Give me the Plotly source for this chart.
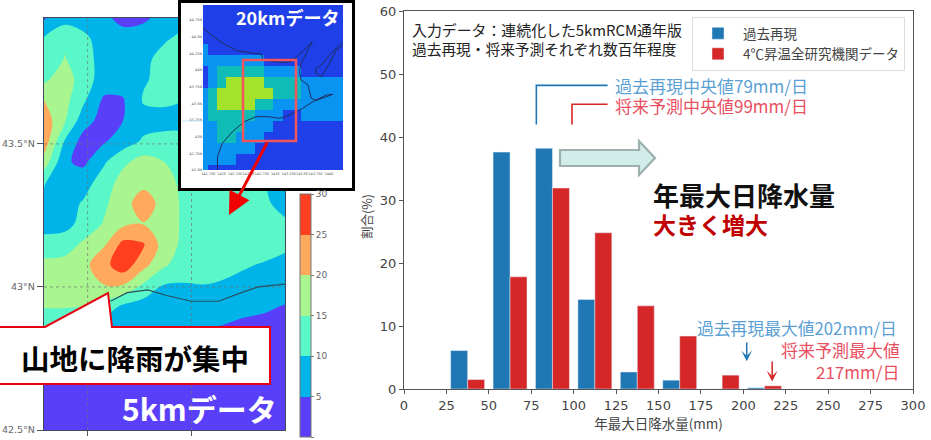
import plotly.graph_objects as go

W, H = 931, 440
JP = "Noto Sans CJK JP"
LAT = "DejaVu Sans"


def px(x):
    return x / W


def py(y):
    return (H - y) / H


def xdom(a, b):
    return [px(a), px(b)]


def ydom(top, bottom):
    return [py(bottom), py(top)]


# ---------- histogram ----------
bin_centres = [37.5, 62.5, 87.5, 112.5, 137.5, 162.5, 187.5, 212.5]
past_pct = [6.1, 37.6, 38.2, 14.2, 2.7, 1.4, 0.0, 0.2]
future_pct = [1.5, 17.8, 31.9, 24.8, 13.2, 8.4, 2.2, 0.5]
past_name = "過去再現"
future_name = "4℃昇温全研究機関データ"
past_median, future_median = 79, 99
past_max, future_max = 202, 217

# ---------- 5 km map ----------
map_lon = [141.79, 141.89, 141.98, 142.08, 142.17, 142.27, 142.37, 142.46, 142.56, 142.65, 142.75, 142.85, 142.95]
map_lat = [43.94, 43.868, 43.796, 43.724, 43.652, 43.58, 43.508, 43.436, 43.364, 43.292, 43.22,
           43.148, 43.076, 43.004, 42.932, 42.86, 42.788, 42.716, 42.644, 42.572, 42.5]
map_rain = [
    [4.5, 8, 8, 6, 3.5, 4, 7, 8, 8, 8, 8, 8, 8],
    [10.5, 14, 11, 8, 7, 8, 9.5, 11, 8, 8, 8, 8, 8],
    [10.3, 15.3, 12, 8, 7, 9, 11.5, 12, 10, 8, 8, 8, 8],
    [14, 18, 12, 8, 7, 9.5, 11.5, 12, 10, 8, 8, 8, 8],
    [20, 16.5, 10.8, 4, 4.6, 10.5, 10.7, 10, 9, 8, 8, 8, 8],
    [23, 15.5, 7, 3, 5, 8, 8.5, 9, 9, 8, 8, 8, 8],
    [23, 9.5, 3, 4.6, 7.5, 10.8, 11.5, 11, 10, 9, 8, 8, 8],
    [18, 5.6, 4, 9.5, 14, 17, 15, 12.5, 12, 11, 10, 9, 8],
    [10.5, 5.1, 8, 12.5, 17, 19, 17.5, 13.5, 13, 13, 12, 10, 8],
    [8.5, 8, 10.5, 14, 18.5, 22, 18.5, 14, 13.5, 13.5, 13, 11, 8],
    [8, 8.5, 11.5, 15.5, 19, 19.8, 18.5, 14, 13, 13, 13, 12.5, 11],
    [12, 12.5, 16, 19.5, 26.5, 25.5, 17.5, 14, 13, 13, 12.8, 12.5, 10.7],
    [16.5, 17, 18.5, 23.5, 28, 21.5, 15.5, 13, 13, 12.5, 10.5, 9.5, 9],
    [16, 16.5, 18, 19.8, 19.6, 14, 9.5, 9.5, 9.8, 9, 8.5, 7.5, 7],
    [15.5, 15.5, 15, 13, 9, 7.5, 7, 6.5, 7, 7, 6, 5.5, 4.8],
    [10, 9, 8, 7, 6.5, 6, 6, 5.5, 5.2, 4.8, 4.2, 4, 3.5],
    [6, 6, 5.5, 5.5, 5.5, 5, 5, 5, 4.5, 4, 3.5, 3.5, 3],
    [5.2, 5.2, 5, 5, 4.8, 4.5, 4, 4, 4, 3.5, 3, 3, 3],
    [4, 4, 4, 4, 4, 3.5, 3.5, 3.5, 3, 3, 3, 2.5, 2.5],
    [3, 3, 3, 3, 3, 3, 3, 2.5, 2.5, 2.5, 2.5, 2.5, 2.5],
    [2.5, 2.5, 2.5, 2.5, 2.5, 2.5, 2.5, 2.5, 2.5, 2.5, 2.5, 2.5, 2.5],
]
coast_lon = [142.11, 142.19, 142.29, 142.38, 142.50, 142.63, 142.74, 142.82, 142.95]
coast_lat = [42.95, 42.98, 42.99, 42.97, 42.95, 42.95, 42.98, 43.0, 43.01]
rain_steps = ["#5a3ffa", "#00b4ea", "#5af8c8", "#a9f58f", "#ffa95c", "#ff3f1f"]

# ---------- 20 km inset ----------
inset_lon = [141.65, 141.825, 142.0, 142.175, 142.35, 142.525, 142.7, 142.875, 143.05,
             143.225, 143.4, 143.575, 143.75, 143.925, 144.1, 144.275]
inset_lat = [44.9675, 44.8025, 44.6375, 44.4725, 44.3075, 44.1425, 43.9775, 43.8125,
             43.6475, 43.4825, 43.3175, 43.1525, 42.9875, 42.8225, 42.6575, 42.4925]
inset_class = [
    [0] * 16,
    [0] * 16,
    [0] * 16,
    [0] * 16,
    [1] + [0] * 15,
    [1, 1, 1, 1, 1, 1, 1, 0, 0, 0, 0, 0, 0, 0, 0, 0],
    [0, 1, 2, 2, 2, 2, 2, 1, 1, 1, 1, 0, 0, 0, 0, 0],
    [0, 1, 2, 3, 3, 3, 3, 2, 2, 2, 2, 1, 1, 1, 1, 1],
    [1, 2, 3, 3, 3, 3, 3, 3, 2, 2, 2, 1, 1, 1, 1, 1],
    [1, 2, 3, 3, 3, 3, 2, 2, 1, 1, 1, 1, 1, 1, 1, 1],
    [1, 2, 2, 2, 2, 2, 1, 1, 1, 0, 0, 1, 1, 1, 1, 1],
    [1, 1, 2, 2, 2, 1, 1, 1, 0, 0, 0, 0, 0, 0, 0, 0],
    [1, 1, 2, 2, 1, 1, 1, 0, 0, 0, 0, 0, 0, 0, 0, 0],
    [1, 1, 1, 1, 1, 1, 0, 0, 0, 0, 0, 0, 0, 0, 0, 0],
    [1, 1, 1, 1, 0, 0, 0, 0, 0, 0, 0, 0, 0, 0, 0, 0],
    [1] + [0] * 15,
]
inset_colors = ["#1f3fe8", "#0a94f2", "#0fbcb6", "#a4e22c"]
inset_coast_lon = [141.65, 141.89, 142.075, 142.29, 142.54, 142.75, 142.76, 143.075, 143.29, 143.39, 143.54,
                   143.69, 143.61, 143.48, 143.45, 143.48, 143.61, 143.67, 143.76, 143.95, 144.075, 143.89,
                   143.70, 143.51, 143.325, 143.2, 143.075, 142.86, 142.64, 142.42, 142.2, 142.01, 141.92, 141.92]
inset_coast_lat = [44.625, 44.475, 44.375, 44.29, 44.26, 44.235, 44.15, 44.115, 44.125, 44.19, 44.30,
                   44.425, 44.30, 44.10, 43.975, 43.85, 43.775, 43.575, 43.55, 43.625, 43.635, 43.575,
                   43.525, 43.425, 43.35, 43.30, 43.275, 43.30, 43.30, 43.225, 43.075, 42.90, 42.70, 42.5]
inset_coast2_lon = [144.26, 144.14, 144.01, 143.86, 143.76, 143.76, 143.89, 144.01, 144.26]
inset_coast2_lat = [44.375, 44.30, 44.10, 43.90, 43.95, 44.025, 44.10, 44.225, 44.425]

BLUE, RED = "#1f77b4", "#d62728"
BLUE_T, RED_T = "#5b9fd4", "#e8505f"
AX = "#555555"
TICK = "#444444"

fig = go.Figure()

# bars
fig.add_trace(go.Bar(x=bin_centres, y=past_pct, name=past_name, marker_color=BLUE, xaxis="x", yaxis="y"))
fig.add_trace(go.Bar(x=bin_centres, y=future_pct, name=future_name, marker_color=RED, xaxis="x", yaxis="y"))

# map
step_scale = []
for i, c in enumerate(rain_steps):
    step_scale += [[i / 6, c], [(i + 1) / 6, c]]
fig.add_trace(go.Contour(
    x=map_lon, y=map_lat[::-1], z=map_rain[::-1], xaxis="x2", yaxis="y2",
    colorscale=step_scale, zmin=0, zmax=30, autocontour=False,
    contours=dict(start=0, end=30, size=5, coloring="fill", showlines=False),
    line=dict(width=0, smoothing=1), showlegend=False,
    colorbar=dict(x=px(300), xanchor="left", xpad=0, y=py(437), yanchor="bottom", ypad=0,
                  len=243 / H, thickness=11, outlinecolor="#777777", outlinewidth=1,
                  tickmode="array", tickvals=[0, 5, 10, 15, 20, 25, 30], ticks="outside", ticklen=3,
                  tickcolor="#777777", tickfont=dict(family=LAT, size=9, color="#666666")),
))
for lat_val in (43.0, 43.5):
    fig.add_trace(go.Scatter(x=[map_lon[0], map_lon[-1]], y=[lat_val, lat_val], mode="lines", xaxis="x2", yaxis="y2",
                             line=dict(color="rgba(110,110,110,0.65)", width=1, dash="dot"), showlegend=False))
for lon_val in (142.0, 142.5):
    fig.add_trace(go.Scatter(x=[lon_val, lon_val], y=[map_lat[-1], map_lat[0]], mode="lines", xaxis="x2", yaxis="y2",
                             line=dict(color="rgba(110,110,110,0.65)", width=1, dash="dot"), showlegend=False))
fig.add_trace(go.Scatter(x=coast_lon, y=coast_lat, mode="lines", xaxis="x2", yaxis="y2",
                         line=dict(color="#2c4f5c", width=1.2), showlegend=False))

# white framed panel carrying the inset
fig.add_trace(go.Scatter(x=[None], y=[None], xaxis="x3", yaxis="y3", showlegend=False))

# inset
ins_scale = []
for i, c in enumerate(inset_colors):
    ins_scale += [[i / 4, c], [(i + 1) / 4, c]]
fig.add_trace(go.Heatmap(x=inset_lon, y=inset_lat[::-1], z=inset_class[::-1], xaxis="x4", yaxis="y4",
                         colorscale=ins_scale, zmin=-0.5, zmax=3.5, showscale=False))
fig.add_trace(go.Scatter(x=inset_coast_lon, y=inset_coast_lat, mode="lines", xaxis="x4", yaxis="y4",
                         line=dict(color="#1b2f5e", width=1), showlegend=False))
fig.add_trace(go.Scatter(x=inset_coast2_lon, y=inset_coast2_lat, mode="lines", xaxis="x4", yaxis="y4",
                         line=dict(color="#1b2f5e", width=1), showlegend=False))

shapes = [
    # median brackets on the histogram
    dict(type="path", xref="x", yref="y", layer="above",
         path=f"M {past_median - 1.0},42 L {past_median - 1.0},48.2 L 120,48.2", line=dict(color=BLUE, width=1.6)),
    dict(type="path", xref="x", yref="y", layer="above",
         path=f"M {future_median},42 L {future_median},45.2 L 120,45.2", line=dict(color=RED, width=1.6)),
    # big block arrow
    dict(type="path", xref="paper", yref="paper", layer="above",
         path=(f"M {px(560)},{py(150)} L {px(639)},{py(150)} L {px(639)},{py(141)} L {px(655)},{py(158)} "
               f"L {px(639)},{py(175)} L {px(639)},{py(166)} L {px(560)},{py(166)} Z"),
         fillcolor="#d2ecea", line=dict(color="#9db0ad", width=2.2)),
    # red box on the inset
    dict(type="rect", xref="paper", yref="paper", layer="above",
         x0=px(243), x1=px(296), y0=py(141), y1=py(60), line=dict(color="#f2555a", width=2.5)),
    # thin stray line left of the inset heatmap
    dict(type="line", xref="paper", yref="paper", layer="above",
         x0=px(182), x1=px(203), y0=py(121), y1=py(121), line=dict(color="#bde6f5", width=1)),
    # callout
    dict(type="path", xref="paper", yref="paper", layer="above",
         path=(f"M {px(-4)},{py(327)} L {px(45)},{py(327)} L {px(108)},{py(293)} L {px(112)},{py(327)} "
               f"L {px(270)},{py(327)} L {px(270)},{py(384)} L {px(-4)},{py(384)} Z"),
         fillcolor="white", line=dict(color="#e60012", width=2)),
]


def note(text, x, y, size, color="#222222", anchor="left", bold=False, family=JP, angle=0):
    body = f"<b>{text}</b>" if bold else text
    return dict(text=body, x=px(x), y=py(y), xref="paper", yref="paper", xanchor=anchor, yanchor="middle",
                showarrow=False, font=dict(family=family, size=size, color=color), textangle=angle)


annotations = [
    note("入力データ：連続化した5kmRCM通年版", 410, 29, 14.9),
    note("過去再現・将来予測それぞれ数百年程度", 410, 48, 14.7),
    note("過去再現中央値79mm/日", 613, 85, 17, BLUE_T),
    note("将来予測中央値99mm/日", 613, 105, 17, RED_T),
    note("年最大日降水量", 651, 194, 26, "#111111", bold=True),
    note("大きく増大", 651, 224, 23, "#c00000", bold=True),
    note("過去再現最大値202mm/日", 899, 328, 16.8, BLUE_T, "right"),
    note("将来予測最大値", 902, 349, 17, RED_T, "right"),
    note("217mm/日", 901, 371, 17, RED_T, "right"),
    note("割合(%)", 366, 217, 12.5, "#444444", "center", angle=-90),
    note("20kmデータ", 234, 17, 18, "white", bold=True),
    note("5kmデータ", 120, 408, 30, "white", bold=True),
    note("山地に降雨が集中", 19, 357, 28.5, "#000000", bold=True),
    dict(text="", x=past_max, y=4.4, ax=past_max, ay=7.6, xref="x", yref="y", axref="x", ayref="y",
         showarrow=True, arrowhead=3, arrowsize=1.2, arrowwidth=1.5, arrowcolor=BLUE, standoff=0),
    dict(text="", x=future_max, y=1.2, ax=future_max, ay=4.6, xref="x", yref="y", axref="x", ayref="y",
         showarrow=True, arrowhead=3, arrowsize=1.2, arrowwidth=1.5, arrowcolor=RED, standoff=0),
    dict(text="", x=px(229), y=py(215), ax=39, ay=-74, xref="paper", yref="paper",
         axref="pixel", ayref="pixel", showarrow=True, arrowhead=2, arrowsize=1.5, arrowwidth=3,
         arrowcolor="#f00000", standoff=0),
]

fig.update_layout(
    width=W, height=H, margin=dict(l=0, r=0, t=0, b=0, autoexpand=False),
    paper_bgcolor="white", plot_bgcolor="white", barmode="group", bargap=0.2, bargroupgap=0,
    font=dict(family=JP, color=TICK),
    shapes=shapes, annotations=annotations,
    legend=dict(x=px(692), y=py(17), xanchor="left", yanchor="top", bgcolor="white", bordercolor="#dddddd",
                borderwidth=1, font=dict(family=JP, size=13.5, color="#444444"), tracegroupgap=0, itemwidth=40),
    xaxis=dict(domain=xdom(404, 913), anchor="y", range=[0, 300], tickmode="array",
               tickvals=list(range(0, 301, 25)), showgrid=False, zeroline=False, showline=True, mirror=True,
               linecolor=AX, linewidth=1.2, ticks="outside", ticklen=4, tickcolor=AX,
               tickfont=dict(family=LAT, size=13, color=TICK),
               title=dict(text="年最大日降水量(mm)", font=dict(family=JP, size=13.5, color=TICK), standoff=6)),
    yaxis=dict(domain=ydom(11, 389), anchor="x", range=[0, 60], tickmode="array",
               tickvals=list(range(0, 61, 10)), showgrid=False, zeroline=False, showline=True, mirror=True,
               linecolor=AX, linewidth=1.2, ticks="outside", ticklen=4, tickcolor=AX,
               tickfont=dict(family=LAT, size=13, color=TICK)),
    xaxis2=dict(domain=xdom(44, 285), anchor="y2", range=[map_lon[0], map_lon[-1]], tickmode="array",
                tickvals=[142.0, 142.5], ticktext=["142°E", "142.5°E"], showgrid=False, zeroline=False,
                showline=True, mirror=True, linecolor="#3f4a5a", linewidth=1.3, ticks="outside", ticklen=5,
                tickcolor="#555555", tickfont=dict(family=LAT, size=9.5, color="#666666")),
    yaxis2=dict(domain=ydom(18, 430), anchor="x2", range=[map_lat[-1], map_lat[0]], tickmode="array",
                tickvals=[42.5, 43.0, 43.5], ticktext=["42.5°N", "43°N", "43.5°N"], showgrid=False, zeroline=False,
                showline=True, mirror=True, linecolor="#3f4a5a", linewidth=1.3, ticks="outside", ticklen=6,
                tickcolor="#555555", tickfont=dict(family=LAT, size=9.5, color="#666666")),
    xaxis3=dict(domain=xdom(181, 352), anchor="y3", range=[0, 1], showgrid=False, zeroline=False, showticklabels=False,
                showline=True, mirror=True, linecolor="black", linewidth=2.5, ticks=""),
    yaxis3=dict(domain=ydom(3, 188), anchor="x3", range=[0, 1], showgrid=False, zeroline=False, showticklabels=False,
                showline=True, mirror=True, linecolor="black", linewidth=2.5, ticks=""),
    xaxis4=dict(domain=xdom(203, 343), anchor="y4", range=[141.65, 144.2625], tickmode="array",
                tickvals=[141.75, 142, 142.25, 142.5, 142.75, 143, 143.25, 143.5, 143.75, 144],
                ticktext=["141.75E", "142E", "142.25E", "142.5E", "142.75E", "143E", "143.25E", "143.5E", "143.75E", "144E"],
                showgrid=False, zeroline=False, showline=False, ticks="", ticklen=0,
                tickfont=dict(family=LAT, size=3.5, color="#555555"), tickangle=0),
    yaxis4=dict(domain=ydom(5, 170), anchor="x4", range=[42.5, 44.975], tickmode="array",
                tickvals=[42.5, 42.75, 43, 43.25, 43.5, 43.75, 44, 44.25, 44.5, 44.75],
                ticktext=["42.5N", "42.75N", "43N", "43.25N", "43.5N", "43.75N", "44N", "44.25N", "44.5N", "44.75N"],
                showgrid=False, zeroline=False, showline=False, ticks="", ticklen=0,
                tickfont=dict(family=LAT, size=3.5, color="#555555")),
)

fig.write_html("out.html", post_script="document.body.style.margin='0';", config=dict(displayModeBar=False))
